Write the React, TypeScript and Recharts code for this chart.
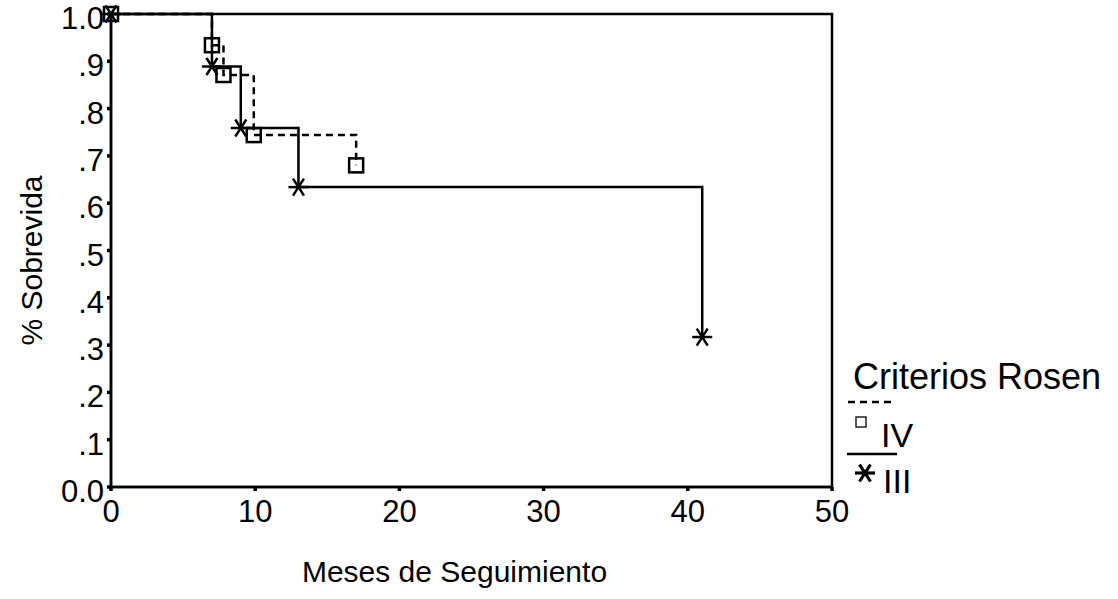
import React from 'react';
import { LineChart, Line, XAxis, YAxis, ReferenceArea, Label } from 'recharts';

const FONT = '"Liberation Sans", Arial, Helvetica, sans-serif';

// Series "III" (solid, asterisk markers)
const monthsIII = [0, 7, 9, 13, 41];
const survIII = [1.0, 0.889, 0.759, 0.634, 0.317];
// Series "IV" (dashed, square markers)
const monthsIV = [0, 7, 7.8, 9.9, 17];
const survIV = [1.0, 0.934, 0.871, 0.744, 0.68];

const xTicks = [0, 10, 20, 30, 40, 50];
const yTicks = [0, 0.1, 0.2, 0.3, 0.4, 0.5, 0.6, 0.7, 0.8, 0.9, 1.0];
const yTickLabels = ['0.0', '.1', '.2', '.3', '.4', '.5', '.6', '.7', '.8', '.9', '1.0'];

const legendTitle = 'Criterios Rosen';
const legendNames = ['IV', 'III'];

const dataIII = monthsIII.map((t, i) => ({ t, s: survIII[i] }));
const dataIV = monthsIV.map((t, i) => ({ t, s: survIV[i] }));

const Star = ({ cx, cy, r = 10, w = 2.5 }: { cx: number; cy: number; r?: number; w?: number }) => {
  const dx = r * 0.55;
  const dy = r * 0.85;
  return (
    <g stroke="#000" strokeWidth={w} fill="none">
      <line x1={cx - r} y1={cy} x2={cx + r} y2={cy} />
      <line x1={cx - dx} y1={cy - dy} x2={cx + dx} y2={cy + dy} />
      <line x1={cx + dx} y1={cy - dy} x2={cx - dx} y2={cy + dy} />
    </g>
  );
};

const Square = ({ cx, cy, s = 14, w = 2.5 }: { cx: number; cy: number; s?: number; w?: number }) => (
  <rect x={cx - s / 2} y={cy - s / 2} width={s} height={s} fill="#fff" fillOpacity={0} stroke="#000" strokeWidth={w} />
);

const starDot = (p: any) => <Star key={`st-${p.index}`} cx={p.cx} cy={p.cy} />;
const squareDot = (p: any) => <Square key={`sq-${p.index}`} cx={p.cx} cy={p.cy} />;

export default function App() {
  return (
    <div style={{ position: 'relative', width: 1118, height: 599, background: '#fff' }}>
      <style>{`body{margin:0;background:#fff}`}</style>
      <LineChart
        width={1118}
        height={599}
        margin={{ top: 14, right: 286, bottom: 0, left: 0 }}
        style={{ fontFamily: FONT }}
      >
        <ReferenceArea x1={0} x2={50} y1={0} y2={1} fill="none" stroke="#000" strokeWidth={2.5} ifOverflow="visible" />
        <XAxis
          type="number"
          dataKey="t"
          domain={[0, 50]}
          ticks={xTicks}
          interval={0}
          height={112}
          axisLine={{ stroke: '#000', strokeWidth: 2.5 }}
          tickLine={{ stroke: '#000', strokeWidth: 3.5 }}
          tickSize={4}
          tickMargin={9}
          tick={{ fill: '#000', fontSize: 31, fontFamily: FONT }}
        >
          <Label
            content={(props: any) => {
              const vb = props.viewBox;
              return (
                <text x={vb.x + vb.width / 2 - 17} y={vb.y + 95} textAnchor="middle" fontSize={30} fontFamily={FONT} fill="#000">
                  Meses de Seguimiento
                </text>
              );
            }}
          />
        </XAxis>
        <YAxis
          type="number"
          domain={[0, 1]}
          ticks={yTicks}
          interval={0}
          width={111}
          axisLine={{ stroke: '#000', strokeWidth: 2.5 }}
          tickLine={{ stroke: '#000', strokeWidth: 3.5 }}
          tickSize={4}
          tickMargin={3}
          tickFormatter={(v: number) => yTickLabels[Math.round(v * 10)]}
          tick={{ fill: '#000', fontSize: 31, fontFamily: FONT, dy: 4 }}
        >
          <Label
            content={(props: any) => {
              const vb = props.viewBox;
              const cy = vb.y + vb.height / 2 + 10;
              return (
                <text x={42} y={cy} transform={`rotate(-90 42 ${cy})`} textAnchor="middle" fontSize={30} fontFamily={FONT} fill="#000">
                  % Sobrevida
                </text>
              );
            }}
          />
        </YAxis>
        <Line
          data={dataIV}
          dataKey="s"
          type="stepAfter"
          stroke="#000"
          strokeWidth={2.5}
          strokeDasharray="7 5"
          dot={squareDot}
          activeDot={false}
          isAnimationActive={false}
        />
        <Line
          data={dataIII}
          dataKey="s"
          type="stepAfter"
          stroke="#000"
          strokeWidth={2.5}
          dot={starDot}
          activeDot={false}
          isAnimationActive={false}
        />
      </LineChart>
      <svg
        width={1118}
        height={599}
        style={{ position: 'absolute', left: 0, top: 0, pointerEvents: 'none' }}
      >
        <text x={853} y={389} fontSize={36} fontFamily={FONT} fill="#000">{legendTitle}</text>
        <line x1={848} y1={402} x2={894} y2={402} stroke="#000" strokeWidth={2.5} strokeDasharray="7 5" />
        <Square cx={861} cy={422} s={10} w={1.3} />
        <text x={881} y={447} fontSize={34} fontFamily={FONT} fill="#000">{legendNames[0]}</text>
        <line x1={847} y1={454} x2={897} y2={454} stroke="#000" strokeWidth={2.5} />
        <Star cx={865} cy={473} r={10} w={3.2} />
        <text x={883} y={493} fontSize={34} fontFamily={FONT} fill="#000">{legendNames[1]}</text>
      </svg>
    </div>
  );
}
